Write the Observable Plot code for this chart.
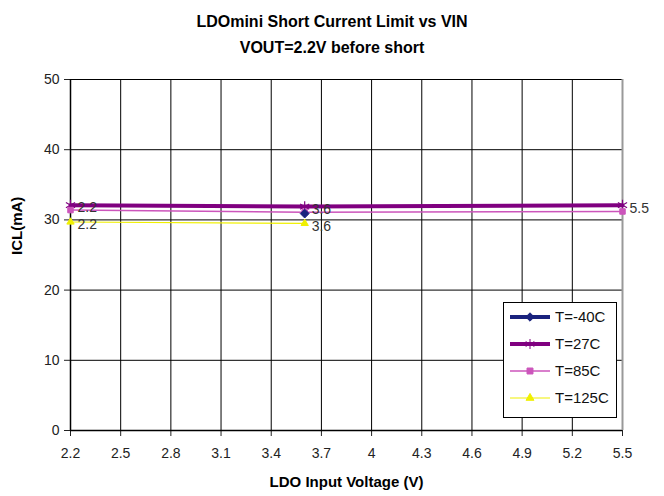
<!DOCTYPE html>
<html><head><meta charset="utf-8">
<script src="https://cdn.jsdelivr.net/npm/d3@7"></script>
<script src="https://cdn.jsdelivr.net/npm/@observablehq/plot@0.6"></script>
<style>
body{margin:0;background:#fff;font-family:"Liberation Sans",Arial,sans-serif;}
#wrap{position:relative;width:664px;height:496px;overflow:hidden;}
#title{position:absolute;left:0;top:9px;width:664px;text-align:center;font-weight:bold;font-size:16px;line-height:26px;color:#000;}
#chart{position:absolute;left:0;top:62px;}
#legend{position:absolute;left:503px;top:302px;width:112px;height:114px;border:1px solid #000;background:#fff;font-size:15px;color:#111;}
#legend .row{display:flex;align-items:center;height:27px;margin-left:4px;}
#legend svg{margin-right:3px}
</style></head>
<body><div id="wrap">
<div id="title">LDOmini Short Current Limit vs VIN<br>VOUT=2.2V before short</div>
<div id="chart"></div>
<div id="legend"></div>
</div>
<script>
const series = ["T=-40C","T=27C","T=85C","T=125C"];
const colors = ["#1a237e","#800080","#cc55bb","#f0f000"];
const widths = [4,4,1.5,1.2];
const symbols = ["diamond2","asterisk","square2","triangle2"];
const vin_m40 = [3.6];        const icl_m40 = [30.9];
const vin_27  = [2.2,3.6,5.5]; const icl_27  = [32.1,31.9,32.1];
const vin_85  = [2.2,3.6,5.5]; const icl_85  = [31.4,31.1,31.2];
const vin_125 = [2.2,3.6];     const icl_125 = [29.7,29.5];
const xTicks = [2.2,2.5,2.8,3.1,3.4,3.7,4,4.3,4.6,4.9,5.2,5.5];
const yTicks = [0,10,20,30,40,50];

const mk = (s, xs, ys) => xs.map((x,i)=>({s, x, y: ys[i]}));
const data = [
  ...mk(series[0], vin_m40, icl_m40),
  ...mk(series[1], vin_27, icl_27),
  ...mk(series[2], vin_85, icl_85),
  ...mk(series[3], vin_125, icl_125)
];
const order = [1,2,3,0];
const marks = [
  Plot.gridX(xTicks, {stroke:"#000", strokeOpacity:1, strokeWidth:1}),
  Plot.gridY(yTicks, {stroke:"#000", strokeOpacity:1, strokeWidth:1}),
  Plot.axisX({ticks:xTicks, tickFormat:d=>String(d), tickSize:6, tickPadding:12, fontSize:14, color:"#222", label:null}),
  Plot.axisY({ticks:yTicks, tickSize:6, tickPadding:5, fontSize:14, color:"#222", label:null}),
  Plot.ruleY([0], {stroke:"#000", strokeWidth:1.5}),
  Plot.ruleX([2.2], {stroke:"#000", strokeWidth:1.5}),
  Plot.ruleX([5.5], {stroke:"#999", strokeWidth:2}),
];
for (const i of order) {
  const d = data.filter(p => p.s === series[i]);
  marks.push(Plot.line(d, {x:"x", y:"y", stroke:colors[i], strokeWidth:widths[i]}));
}
for (const i of order) {
  const d = data.filter(p => p.s === series[i]);
  marks.push(Plot.dot(d, {x:"x", y:"y", symbol:()=>symbols[i], stroke:colors[i], fill:colors[i], r: i===1?5:(i===0?4:3.5), strokeWidth:i===1?1.2:1}));
}
marks.push(Plot.text(data.filter(d => d.s === series[2]), {x:"x", y:"y", text:d=>String(d.x), textAnchor:"start", dx:7, dy:-3, fontSize:14, fill:"#333"}));
marks.push(Plot.text(data.filter(d => d.s === series[3]), {x:"x", y:"y", text:d=>String(d.x), textAnchor:"start", dx:7, dy:3, fontSize:14, fill:"#333"}));
marks.push(Plot.text(["LDO Input Voltage (V)"], {frameAnchor:"bottom", dy:56, fontWeight:"bold", fontSize:15, fill:"#000"}));
marks.push(Plot.text(["ICL(mA)"], {frameAnchor:"left", dx:-53, rotate:-90, fontWeight:"bold", fontSize:15, fill:"#000"}));

const chart = Plot.plot({
  width:664, height:434,
  marginLeft:70, marginRight:42, marginTop:17, marginBottom:66,
  style:{fontFamily:"Liberation Sans, Arial, sans-serif", fontSize:"14px", color:"#000", background:"#fff", overflow:"visible"},
  x:{domain:[2.2,5.5]},
  y:{domain:[0,50]},
  marks
});
document.getElementById("chart").appendChild(chart);

// legend
const lg = d3.select("#legend");
const legendSymbols = [d3.symbolDiamond2||d3.symbolDiamond, d3.symbolAsterisk||d3.symbolCross, d3.symbolSquare2||d3.symbolSquare, d3.symbolTriangle2||d3.symbolTriangle];
series.forEach((s,i)=>{
  const row = lg.append("div").attr("class","row");
  const sv = row.append("svg").attr("width",44).attr("height",20);
  sv.append("line").attr("x1",2).attr("x2",42).attr("y1",10).attr("y2",10).attr("stroke",colors[i]).attr("stroke-width",widths[i]);
  sv.append("path").attr("transform","translate(22,10)").attr("d", d3.symbol().type(legendSymbols[i]).size(i===1?70:45)())
    .attr("fill",colors[i]).attr("stroke",colors[i]);
  row.append("span").text(s);
});
</script>
</body></html>
